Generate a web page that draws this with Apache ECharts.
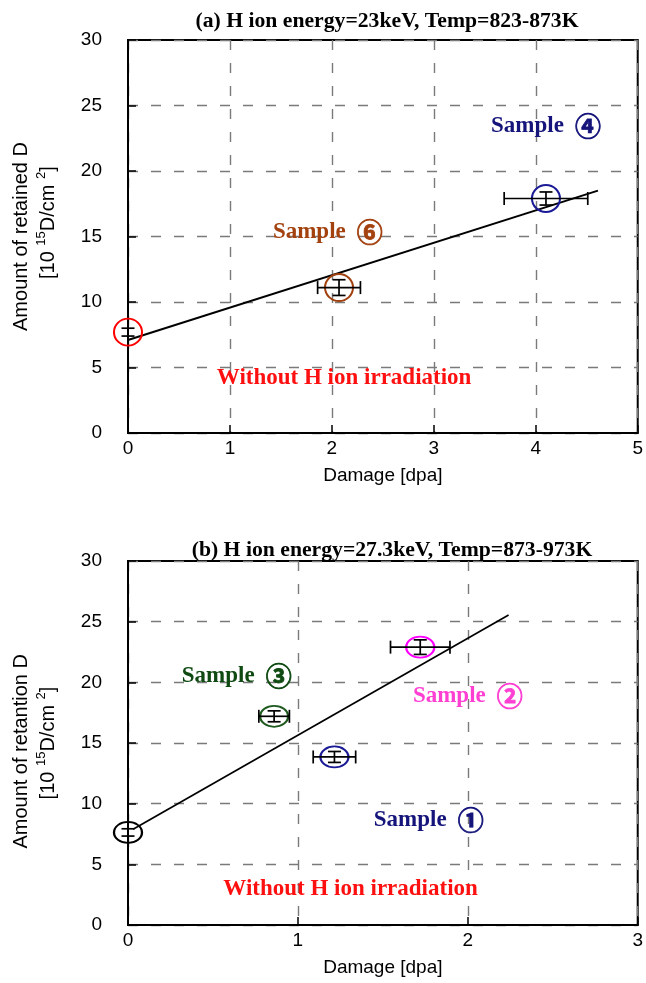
<!DOCTYPE html>
<html><head><meta charset="utf-8">
<script src="https://cdn.jsdelivr.net/npm/echarts@6/dist/echarts.min.js"></script>
<style>html,body{margin:0;padding:0;background:#fff}#c{width:646px;height:983px}</style>
</head><body><div id="c"></div>
<script>
// ---- Data ----
const titleA = '(a) H ion energy=23keV, Temp=823-873K';
const titleB = '(b) H ion energy=27.3keV, Temp=873-973K';
const xTicksA = [0, 1, 2, 3, 4, 5];
const xTicksB = [0, 1, 2, 3];
const yTicks = [0, 5, 10, 15, 20, 25, 30];

// Panel (a)
const aSample = ['none', 's6', 's4'];
const aX    = [0, 2.07, 4.10];
const aY    = [7.7, 11.1, 17.9];
const aXErr = [0, 0.21, 0.41];
const aYErr = [0.3, 0.6, 0.5];
const aFitX = [0, 4.61];
const aFitY = [7.1, 18.5];

// Panel (b)
const bSample = ['none0', 's3', 's1', 's2'];
const bX    = [0, 0.86, 1.215, 1.72];
const bY    = [7.63, 17.2, 13.85, 22.9];
const bXErr = [0, 0.09, 0.125, 0.175];
const bYErr = [0.3, 0.45, 0.45, 0.6];
const bFitX = [0.03, 2.24];
const bFitY = [7.9, 25.55];

// Annotations
const aNoteKey  = ['s4', 's6', 'none'];
const aNoteText = ['Sample|④', 'Sample|⑥', 'Without H ion irradiation'];
const aNoteX    = [4.10, 1.96, 2.12];
const aNoteY    = [23.4, 15.35, 4.2];
const bNoteKey  = ['s3', 's2', 's1', 'none'];
const bNoteText = ['Sample|③', 'Sample|②', 'Sample|①', 'Without H ion irradiation'];
const bNoteX    = [0.64, 2.0, 1.77, 1.31];
const bNoteY    = [20.5, 18.9, 8.66, 2.97];

// ---- Styles ----
const markerColor = { none: '#ff0000', none0: '#000000', s6: '#a0410f', s4: '#1a1a96', s3: '#1f5a1f', s1: '#1a1a96', s2: '#ff00ff' };
const textColor   = { none: '#ff1010', s6: '#a3410f', s4: '#14147a', s3: '#0f4a12', s1: '#14147a', s2: '#ff3fd2' };

const chart = echarts.init(document.getElementById('c'));

function axisX(gridIndex, max) {
  return {
    type: 'value', gridIndex, min: 0, max, interval: 1,
    name: 'Damage [dpa]', nameLocation: 'middle', nameGap: 33,
    nameTextStyle: { fontFamily: 'Liberation Sans', fontSize: 19, color: '#000' },
    axisLine: { show: true, lineStyle: { color: '#000', width: 2 } },
    axisTick: { show: true, inside: true, length: 8, lineStyle: { color: '#000', width: 1.5 } },
    axisLabel: { fontFamily: 'Liberation Sans', fontSize: 19, color: '#000', margin: 6 },
    splitLine: { show: true, lineStyle: { color: '#7a7a7a', width: 1.4, type: [10, 13] } }
  };
}
function axisY(gridIndex, name) {
  return {
    type: 'value', gridIndex, min: 0, max: 30, interval: 5,
    name, nameLocation: 'middle', nameGap: 66, nameRotate: 90,
    nameTextStyle: {
      fontFamily: 'Liberation Sans', fontSize: 20, color: '#000', lineHeight: 27, align: 'center',
      rich: { sup: { fontFamily: 'Liberation Sans', fontSize: 13, verticalAlign: 'top', lineHeight: 27, color: '#000' } }
    },
    axisLine: { show: true, lineStyle: { color: '#000', width: 2 } },
    axisTick: { show: true, inside: true, length: 8, lineStyle: { color: '#000', width: 1.5 } },
    axisLabel: { fontFamily: 'Liberation Sans', fontSize: 19, color: '#000', margin: 26 },
    splitLine: { show: true, lineStyle: { color: '#7a7a7a', width: 1.4, type: [10, 13] } }
  };
}

function errSeries(idx, xs, ys, xe, ye) {
  return {
    type: 'custom', xAxisIndex: idx, yAxisIndex: idx, z: 5, silent: true,
    data: xs.map((x, i) => [x, ys[i], xe[i], ye[i]]),
    renderItem: function (params, api) {
      const x = api.value(0), y = api.value(1), ex = api.value(2), ey = api.value(3);
      const c = api.coord([x, y]);
      const top = api.coord([x, y + ey]), bot = api.coord([x, y - ey]);
      const st = { stroke: '#000', lineWidth: 1.7 };
      const cw = 6.5;
      const kids = [
        { type: 'line', shape: { x1: c[0], y1: top[1], x2: c[0], y2: bot[1] }, style: st },
        { type: 'line', shape: { x1: c[0] - cw, y1: top[1], x2: c[0] + cw, y2: top[1] }, style: st },
        { type: 'line', shape: { x1: c[0] - cw, y1: bot[1], x2: c[0] + cw, y2: bot[1] }, style: st }
      ];
      if (ex > 0) {
        const l = api.coord([x - ex, y]), r = api.coord([x + ex, y]);
        kids.push({ type: 'line', shape: { x1: l[0], y1: c[1], x2: r[0], y2: c[1] }, style: st });
        kids.push({ type: 'line', shape: { x1: l[0], y1: c[1] - cw, x2: l[0], y2: c[1] + cw }, style: st });
        kids.push({ type: 'line', shape: { x1: r[0], y1: c[1] - cw, x2: r[0], y2: c[1] + cw }, style: st });
      }
      return { type: 'group', children: kids };
    }
  };
}
function markerSeries(idx, xs, ys, keys, size) {
  return {
    type: 'scatter', xAxisIndex: idx, yAxisIndex: idx, z: 4, clip: false, silent: true,
    symbol: 'circle', symbolSize: size,
    data: xs.map((x, i) => ({
      value: [x, ys[i]],
      itemStyle: { color: 'rgba(0,0,0,0)', opacity: 1, borderColor: markerColor[keys[i]], borderWidth: 2 }
    }))
  };
}
function fitSeries(idx, xs, ys, w) {
  return {
    type: 'line', xAxisIndex: idx, yAxisIndex: idx, z: 3, silent: true, symbol: 'none',
    lineStyle: { color: '#000', width: w },
    data: xs.map((x, i) => [x, ys[i]])
  };
}
function noteSeries(idx, xs, ys, texts, keys) {
  return {
    type: 'scatter', xAxisIndex: idx, yAxisIndex: idx, z: 2, clip: false, silent: true,
    symbolSize: 1, itemStyle: { color: 'rgba(0,0,0,0)', opacity: 1 },
    data: xs.map((x, i) => {
      const parts = texts[i].split('|');
      const f = parts.length > 1 ? '{s|' + parts[0] + '}{d|' + parts[1] + '}' : '{w|' + parts[0] + '}';
      const col = textColor[keys[i]];
      return {
        value: [x, ys[i]],
        label: {
          show: true, position: 'inside', formatter: f, color: col, opacity: 1,
          rich: {
            s: { fontFamily: 'Liberation Serif', fontWeight: 'bold', fontSize: 23, color: col },
            d: { fontFamily: 'Noto Sans CJK JP', fontWeight: 'bold', fontSize: 26, color: col,
                 textBorderColor: col, textBorderWidth: 0.8, padding: [0, 0, 0, 11] },
            w: { fontFamily: 'Liberation Serif', fontWeight: 'bold', fontSize: 23, color: col }
          }
        }
      };
    })
  };
}

const option = {
  backgroundColor: '#fff',
  animation: false,
  title: [
    { text: titleA, left: 382, top: 5, textAlign: 'center', textStyle: { fontFamily: 'Liberation Serif', fontWeight: 'bold', fontSize: 21.7, color: '#000' } },
    { text: titleB, left: 387, top: 534, textAlign: 'center', textStyle: { fontFamily: 'Liberation Serif', fontWeight: 'bold', fontSize: 21.7, color: '#000' } }
  ],
  grid: [
    { left: 124, top: 40, width: 518, height: 393, show: true, borderColor: '#000', borderWidth: 2, backgroundColor: 'transparent' },
    { left: 125, top: 561, width: 516, height: 364, show: true, borderColor: '#000', borderWidth: 2, backgroundColor: 'transparent' }
  ],
  xAxis: [axisX(0, xTicksA[xTicksA.length - 1]), axisX(1, xTicksB[xTicksB.length - 1])],
  yAxis: [
    axisY(0, 'Amount of retained D\n     [10 {sup|15}D/cm {sup|2}]'),
    axisY(1, 'Amount of retantion D   \n[10 {sup|15}D/cm {sup|2}]')
  ],
  series: [
    noteSeries(0, aNoteX, aNoteY, aNoteText, aNoteKey),
    fitSeries(0, aFitX, aFitY, 2),
    markerSeries(0, aX, aY, aSample, [28, 27]),
    errSeries(0, aX, aY, aXErr, aYErr),
    noteSeries(1, bNoteX, bNoteY, bNoteText, bNoteKey),
    fitSeries(1, bFitX, bFitY, 1.7),
    markerSeries(1, bX, bY, bSample, [28, 21]),
    errSeries(1, bX, bY, bXErr, bYErr)
  ]
};
chart.setOption(option);
</script></body></html>
